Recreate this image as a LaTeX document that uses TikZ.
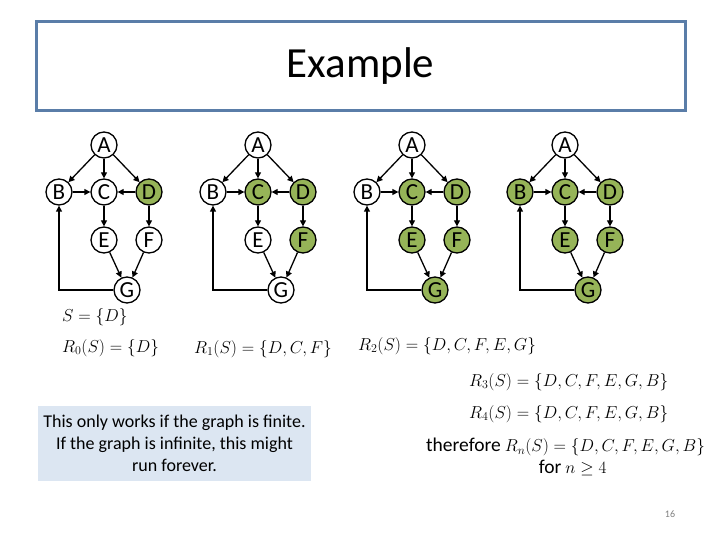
\documentclass[tikz,border=0pt]{standalone}
\usepackage{fontspec}
\setmainfont{Carlito}
\usetikzlibrary{arrows.meta, positioning}

\definecolor{frameblue}{RGB}{90,125,168}
\definecolor{reachgreen}{RGB}{150,180,88}
\definecolor{notefill}{RGB}{220,230,242}

\newcommand{\wordsize}{\fontsize{19.5}{22}\selectfont}

\begin{document}
\begin{tikzpicture}[
    x=1pt, y=-1pt,
    on grid,
    title box/.style={
        rectangle,
        draw=frameblue,
        line width=3pt,
        minimum width=649pt,
        minimum height=89pt,
        font=\fontsize{43}{48}\selectfont
    },
    vertex/.style={
        circle,
        draw=black,
        line width=1.3pt,
        fill=white,
        inner sep=0pt,
        minimum size=26pt,
        font=\fontsize{23}{23}\selectfont
    },
    reached/.style={
        vertex,
        fill=reachgreen
    },
    formula/.style={
        anchor=west,
        inner sep=0pt,
        font=\fontsize{18}{22}\selectfont
    },
    note box/.style={
        rectangle,
        fill=notefill,
        minimum width=273pt,
        minimum height=75pt,
        align=center,
        font=\fontsize{18}{22}\selectfont
    },
    arrow/.style={
        -{Triangle[length=6pt,width=6pt]},
        line width=1.3pt
    }
]
\useasboundingbox (0,0) rectangle (720,540);

\node[title box] (title) at (360.5,66.5) {Example};

% one graph per step, green = reached so far
\foreach \g/\x/\sB/\sC/\sD/\sE/\sF/\sG in {
    1/104/vertex/vertex/reached/vertex/vertex/vertex,
    2/258/vertex/reached/reached/vertex/reached/vertex,
    3/412/vertex/reached/reached/reached/reached/reached,
    4/565/reached/reached/reached/reached/reached/reached}{
    \node[vertex] (A\g) at (\x,145) {A};
    \node[\sC, below=47pt of A\g] (C\g) {C};
    \node[\sB, left=45pt of C\g] (B\g) {B};
    \node[\sD, right=45pt of C\g] (D\g) {D};
    \node[\sE, below=48pt of C\g] (E\g) {E};
    \node[\sF, below=48pt of D\g] (F\g) {F};
    \node[\sG, below right=50pt and 23pt of E\g] (G\g) {G};

    \draw[arrow] (A\g) -- (B\g);
    \draw[arrow] (A\g) -- (C\g);
    \draw[arrow] (A\g) -- (D\g);
    \draw[arrow] (B\g) -- (C\g);
    \draw[arrow] (D\g) -- (C\g);
    \draw[arrow] (C\g) -- (E\g);
    \draw[arrow] (D\g) -- (F\g);
    \draw[arrow] (E\g) -- (G\g);
    \draw[arrow] (F\g) -- (G\g);
    \draw[arrow] (G\g) -| (B\g);
}

\node[formula] (seed) at (62,317) {$S=\{D\}$};
\node[formula] (r0) at (62,348) {$R_0(S)=\{D\}$};
\node[formula] (r1) at (194,349) {$R_1(S)=\{D,C,F\}$};
\node[formula] (r2) at (358,346) {$R_2(S)=\{D,C,F,E,G\}$};
\node[formula] (r3) at (469,382) {$R_3(S)=\{D,C,F,E,G,B\}$};
\node[formula] (r4) at (469,414) {$R_4(S)=\{D,C,F,E,G,B\}$};
\node[formula, align=center] (rn) at (426,457) {{\wordsize therefore} $R_n(S)=\{D,C,F,E,G,B\}$\\ \hspace*{14pt}{\wordsize for} $n\geq 4$};

\node[note box] (note) at (174.5,443.5) {
    This only works if the graph is finite.\\
    If the graph is infinite, this might\\
    run forever.
};

\node[text=gray, font=\fontsize{10}{12}\selectfont] (pagenum) at (670,514) {16};

\end{tikzpicture}
\end{document}
